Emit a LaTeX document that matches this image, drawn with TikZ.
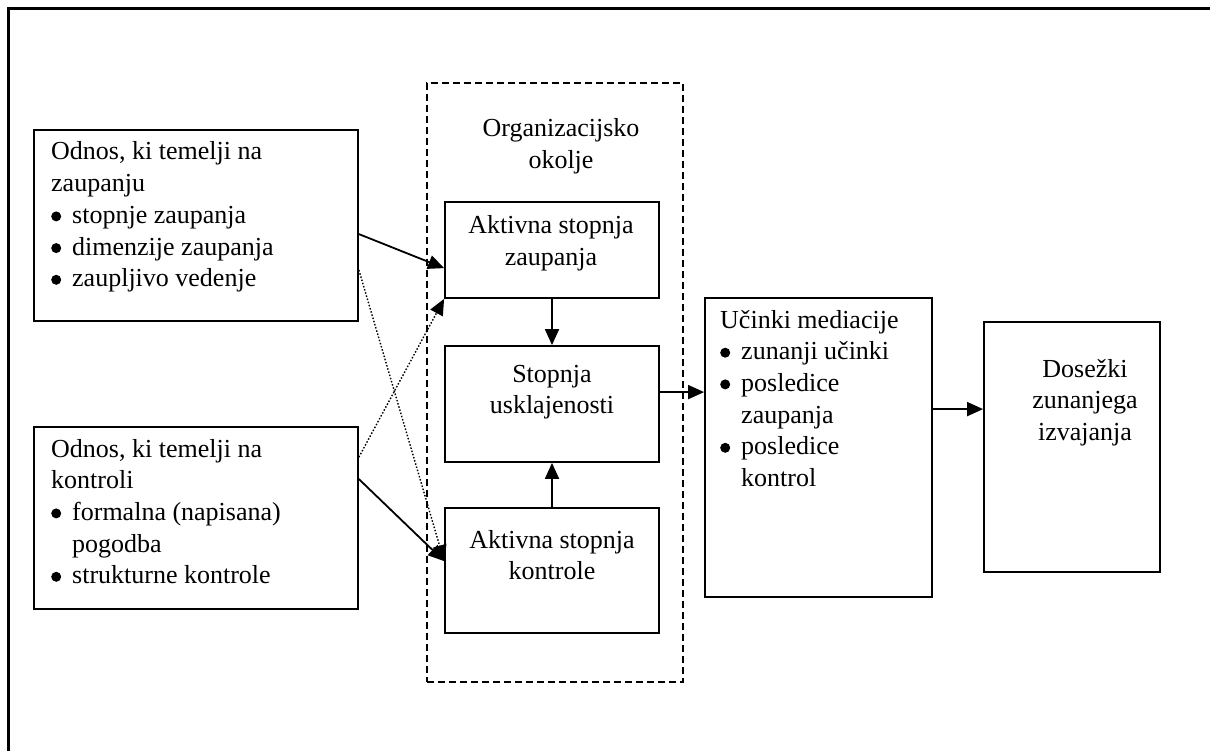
\documentclass[tikz,border=0pt]{standalone}
\usepackage{fontspec}
\setmainfont{Liberation Serif}
\usetikzlibrary{arrows.meta,calc}

% list bullet and hanging indent for wrapped items
\newcommand\bul{\makebox[21pt][l]{\tikz[baseline=-7pt]\fill (5pt,0pt) circle (5pt);}}
\newcommand\ind{\hspace*{21pt}}

\tikzset{
  box/.style={draw, line width=1.8pt, inner sep=0pt, fill=white},
  group/.style={draw, line width=1.6pt, dash pattern=on 7pt off 4pt, inner sep=0pt},
  txt/.style={inner sep=0pt, font={\fontsize{26pt}{31.7pt}\selectfont}},
  link/.style={line width=1.8pt, -{Triangle[length=16pt,width=14pt]}},
  weak/.style={line width=1.4pt, dash pattern=on 1.5pt off 1.8pt, -{Triangle[length=16pt,width=14pt]}}
}

\begin{document}
\begin{tikzpicture}[x=1pt,y=-1pt]
  \useasboundingbox (0,0) rectangle (1210,751);
  \fill[white] (0,0) rectangle (1210,751);
  \clip (0,0) rectangle (1210,751);

  % outer frame
  \draw[line width=2.5pt] (8.5,770) -- (8.5,8.5) -- (1230,8.5);

  % dashed organisational frame
  \node[group, minimum width=256pt, minimum height=599pt] (org) at (555,382.5) {};

  % boxes
  \node[box, minimum width=324pt, minimum height=191pt] (A) at (196,225.5) {};
  \node[box, minimum width=324pt, minimum height=182pt] (B) at (196,518) {};
  \node[box, minimum width=214pt, minimum height=96pt]  (Z) at (552,250) {};
  \node[box, minimum width=214pt, minimum height=116pt] (S) at (552,404) {};
  \node[box, minimum width=214pt, minimum height=125pt] (K) at (552,570.5) {};
  \node[box, minimum width=227pt, minimum height=299pt] (U) at (818.5,447.5) {};
  \node[box, minimum width=176pt, minimum height=250pt] (D) at (1072,447) {};

  % texts (anchored at the baseline of their last line)
  \node[txt, align=left, anchor=base west] (tA) at (51,286.8)
    {Odnos, ki temelji na\\zaupanju\\\bul stopnje zaupanja\\\bul dimenzije zaupanja\\\bul zaupljivo vedenje};
  \node[txt, align=left, anchor=base west] (tB) at (51,583.8)
    {Odnos, ki temelji na\\kontroli\\\bul formalna (napisana)\\\ind pogodba\\\bul strukturne kontrole};
  \node[txt, align=center, anchor=base] (tO) at (561,168.7) {Organizacijsko\\okolje};
  \node[txt, align=center, anchor=base] (tZ) at (551,265.7) {Aktivna stopnja\\zaupanja};
  \node[txt, align=center, anchor=base] (tS) at (552,413.7) {Stopnja\\usklajenosti};
  \node[txt, align=center, anchor=base] (tK) at (552,579.7) {Aktivna stopnja\\kontrole};
  \node[txt, align=left, anchor=base west] (tU) at (720,486.5)
    {Učinki mediacije\\\bul zunanji učinki\\\bul posledice\\\ind zaupanja\\\bul posledice\\\ind kontrol};
  \node[txt, align=center, anchor=base] (tD) at (1085,440.4) {Dosežki\\zunanjega\\izvajanja};

  % connectors
  \draw[link] ($(A.north east)+(0,105)$) -- ($(Z.north west)+(0,67)$);
  \draw[weak] ($(A.north east)+(0,141)$) -- ($(K.north west)+(0,54)$);
  \draw[weak] ($(B.north east)+(0,31)$) -- (Z.south west);
  \draw[link] ($(B.north east)+(0,53)$) -- ($(K.north west)+(0,54)$);
  \draw[link] (Z.south) -- (S.north);
  \draw[link] (K.north) -- (S.south);
  \draw[link] ($(S.north east)+(0,47)$) -- ($(U.north west)+(0,95)$);
  \draw[link] ($(U.north east)+(0,112)$) -- ($(D.north west)+(0,88)$);
\end{tikzpicture}
\end{document}
